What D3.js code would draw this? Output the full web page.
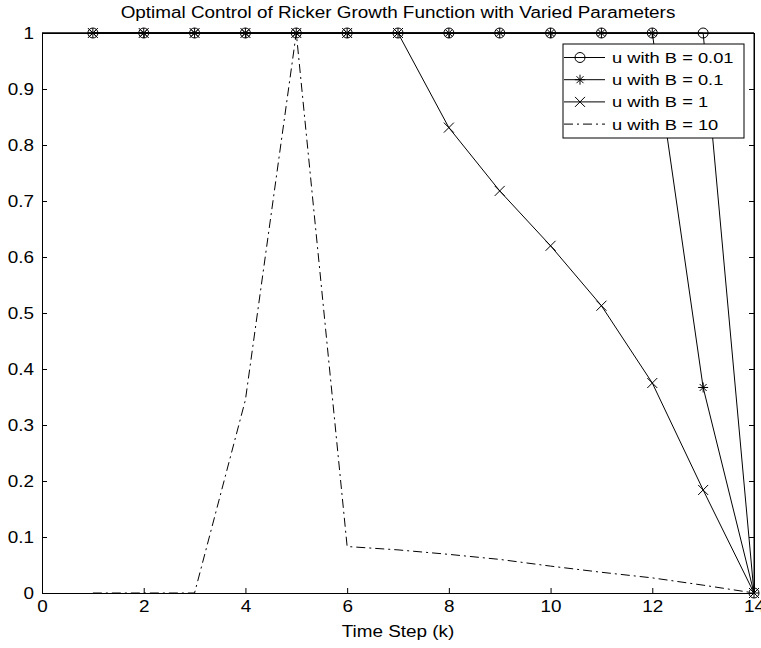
<!DOCTYPE html>
<html><head><meta charset="utf-8">
<script src="https://cdn.jsdelivr.net/npm/d3@7"></script>
<style>body{margin:0;background:#fff}svg{display:block;font-family:"Liberation Sans",Arial,Helvetica,sans-serif}</style>
</head><body>
<script>
const steps = [1,2,3,4,5,6,7,8,9,10,11,12,13,14];
const uB001 = [1,1,1,1,1,1,1,1,1,1,1,1,1,0];
const uB01  = [1,1,1,1,1,1,1,1,1,1,1,1,0.367,0];
const uB1   = [1,1,1,1,1,1,1,0.831,0.718,0.62,0.513,0.375,0.184,0];
const uB10  = [0,0,0,0.345,1,0.083,0.077,0.069,0.06,0.048,0.037,0.027,0.014,0];
const seriesNames = ["u with B = 0.01","u with B = 0.1","u with B = 1","u with B = 10"];
const xTicks = [0,2,4,6,8,10,12,14];
const yTicks = [0,0.1,0.2,0.3,0.4,0.5,0.6,0.7,0.8,0.9,1];
const titleText = "Optimal Control of Ricker Growth Function with Varied Parameters";
const xLabel = "Time Step (k)";

const W=761,H=648;
const L=42,R=754,T=33,B=593;
const STRETCH=1.18;
const svg=d3.select("body").append("svg").attr("width",W).attr("height",H);
const x=d3.scaleLinear().domain([0,14]).range([L,R]);
const y=d3.scaleLinear().domain([0,1]).range([B,T]);

function stretch(sel){
  sel.each(function(){
    const n=this.getComputedTextLength();
    if(n>0) d3.select(this).attr("textLength",n*STRETCH).attr("lengthAdjust","spacingAndGlyphs");
  });
}

// axes
const fmt=d=>d3.format("~g")(d);
const gx=svg.append("g").attr("transform",`translate(0,${B})`).call(d3.axisBottom(x).tickValues(xTicks).tickFormat(fmt).tickSizeInner(-5).tickSizeOuter(0).tickPadding(8));
const gxt=svg.append("g").attr("transform",`translate(0,${T})`).call(d3.axisTop(x).tickValues(xTicks).tickFormat("").tickSizeInner(-5).tickSizeOuter(0));
const gy=svg.append("g").attr("transform",`translate(${L},0)`).call(d3.axisLeft(y).tickValues(yTicks).tickFormat(fmt).tickSizeInner(-5).tickSizeOuter(0).tickPadding(8));
const gyr=svg.append("g").attr("transform",`translate(${R},0)`).call(d3.axisRight(y).tickValues(yTicks).tickFormat("").tickSizeInner(-5).tickSizeOuter(0));
[gx,gxt,gy,gyr].forEach(g=>{g.selectAll("path,line").attr("stroke","#000").attr("stroke-width",1);g.selectAll("text").attr("fill","#000").style("font-size","16px").style("font-family",'"Liberation Sans",Arial,sans-serif');});
stretch(gx.selectAll("text"));stretch(gy.selectAll("text"));

const line=d3.line().x((d,i)=>x(steps[i])).y(d=>y(d));
const series=[
 {v:uB001,m:"o",dash:null},
 {v:uB01,m:"*",dash:null},
 {v:uB1,m:"x",dash:null},
 {v:uB10,m:null,dash:"9,4,2,4"}
];
const plot=svg.append("g");
function marker(g,type,cx,cy){
  const s=5;
  if(type==="o") g.append("circle").attr("cx",cx).attr("cy",cy).attr("r",s).attr("fill","none").attr("stroke","#000").attr("stroke-width",1);
  else if(type==="x") g.append("path").attr("d",`M${cx-s},${cy-s}L${cx+s},${cy+s}M${cx-s},${cy+s}L${cx+s},${cy-s}`).attr("stroke","#000").attr("stroke-width",1);
  else if(type==="*") g.append("path").attr("d",`M${cx-s},${cy}L${cx+s},${cy}M${cx},${cy-s}L${cx},${cy+s}M${cx-s*0.7},${cy-s*0.7}L${cx+s*0.7},${cy+s*0.7}M${cx-s*0.7},${cy+s*0.7}L${cx+s*0.7},${cy-s*0.7}`).attr("stroke","#000").attr("stroke-width",1);
}
series.forEach(s=>{
  plot.append("path").datum(s.v).attr("d",line).attr("fill","none").attr("stroke","#000").attr("stroke-width",1).attr("stroke-dasharray",s.dash);
});
series.forEach(s=>{
  if(s.m) s.v.forEach((d,i)=>marker(plot,s.m,x(steps[i]),y(d)));
});
svg.append("line").attr("x1",L).attr("x2",R).attr("y1",T).attr("y2",T).attr("stroke","#000").attr("stroke-width",1.5);
svg.append("line").attr("x1",R).attr("x2",R).attr("y1",T).attr("y2",B).attr("stroke","#000");

// legend
const lg=svg.append("g");
const lx=563,ly=44,lw=181,lh=94;
lg.append("rect").attr("x",lx).attr("y",ly).attr("width",lw).attr("height",lh).attr("fill","#fff").attr("stroke","#000").attr("stroke-width",1);
seriesNames.forEach((n,i)=>{
  const cy=ly+13.5+i*22.2;
  lg.append("line").attr("x1",lx+1).attr("x2",lx+42).attr("y1",cy).attr("y2",cy).attr("stroke","#000").attr("stroke-dasharray",series[i].dash);
  if(series[i].m) marker(lg,series[i].m,lx+17,cy);
  lg.append("text").attr("x",lx+49).attr("y",cy).attr("dy","0.36em").style("font-size","15.5px").text(n);
});
stretch(lg.selectAll("text"));

const tt=svg.append("text").attr("x",(L+R)/2).attr("y",18).attr("text-anchor","middle").style("font-size","16px").text(titleText);
stretch(tt);
const xl=svg.append("text").attr("x",(L+R)/2).attr("y",637).attr("text-anchor","middle").style("font-size","16px").text(xLabel);
stretch(xl);
</script>
</body></html>
